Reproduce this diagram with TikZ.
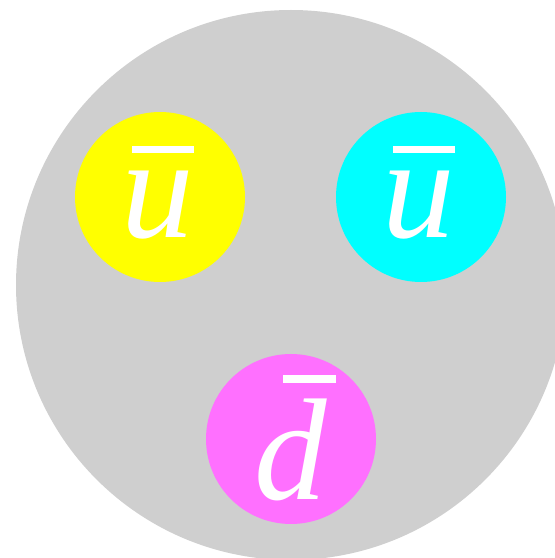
\documentclass[tikz,border=0pt]{standalone}
\usepackage{fontspec}
\setmainfont{Liberation Serif}
\definecolor{bgray}{HTML}{CFCFCF}
\definecolor{qyel}{HTML}{FFFF00}
\definecolor{qcyan}{HTML}{00FFFF}
\definecolor{qmag}{HTML}{FF70FF}
\tikzset{
  quark/.style={circle,minimum size=170pt,inner sep=0pt},
  qlabel/.style={text=white,font=\fontsize{145}{145}\selectfont\itshape,inner sep=0pt,anchor=base},
  qbar/.style={fill=white,draw=none}
}
\begin{document}
\begin{tikzpicture}[x=1pt,y=1pt]
\useasboundingbox (0,0) rectangle (555,558);
\clip (0,0) rectangle (555,558);
\fill[bgray] (291,273) circle (275);
\node[quark,fill=qyel] (q1) at (160,361) {};
\node[quark,fill=qcyan] (q2) at (421,361) {};
\node[quark,fill=qmag] (q3) at (291,119) {};
\node[qlabel] (l1) at (158,320) {u};
\node[qlabel] (l2) at (419,320) {u};
\node[qlabel] (l3) at (291,58) {d};
\fill[qbar] (132,405) rectangle (194,412);
\fill[qbar] (393,405) rectangle (455,412);
\fill[qbar] (283,175) rectangle (336,183);
\end{tikzpicture}
\end{document}
